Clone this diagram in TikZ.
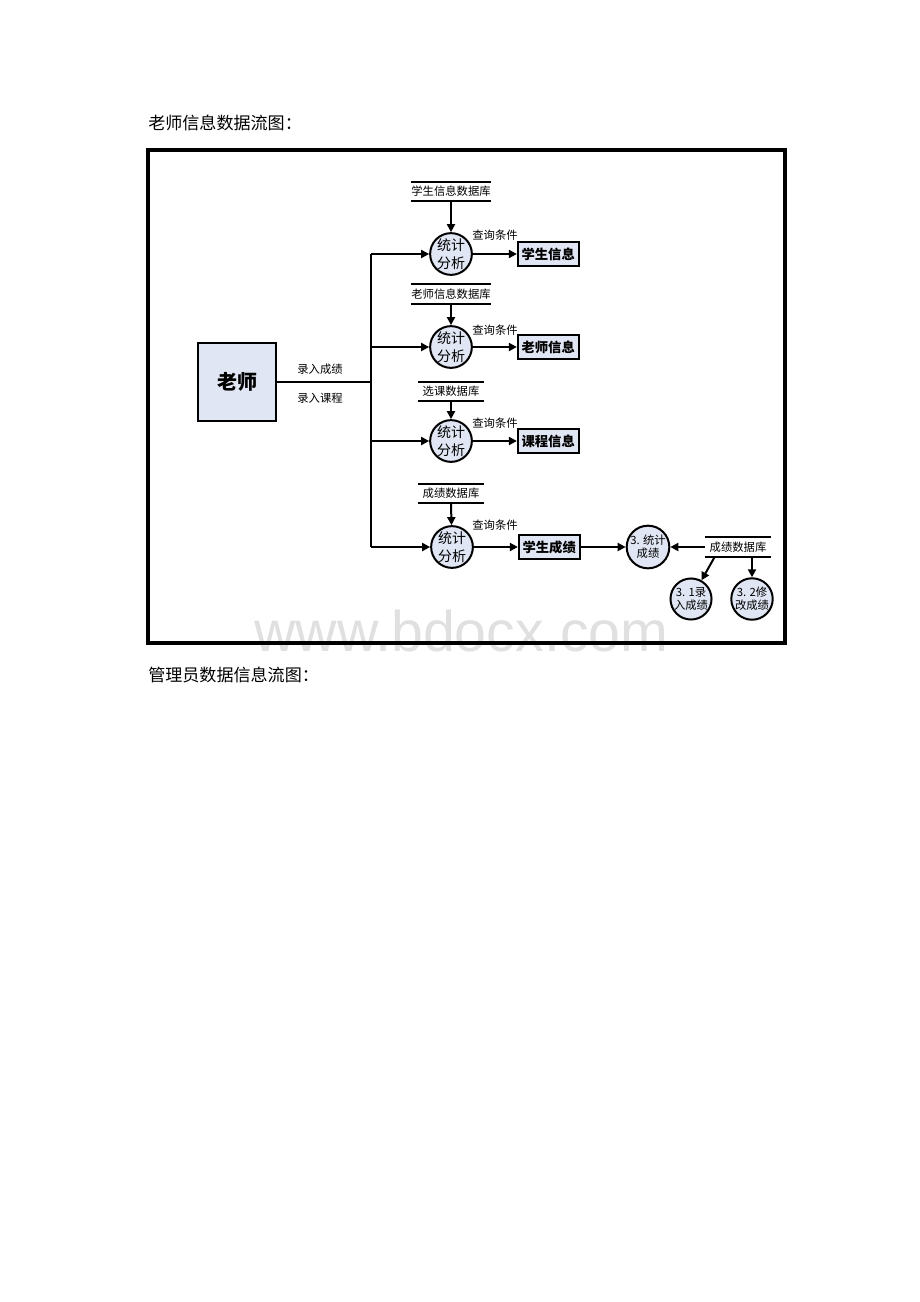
\documentclass[tikz,border=0pt]{standalone}
\usepackage{fontspec}
\setmainfont{Noto Sans CJK SC}
\newfontfamily\wmfont{Liberation Sans}
\usepackage{tikz}
\usetikzlibrary{arrows.meta, positioning}
\definecolor{boxfill}{RGB}{224,230,243}
\tikzstyle{entity} = [rectangle, draw=black, line width=1.5pt, fill=boxfill, minimum size=58.5pt, inner sep=0pt, font=\bfseries\fontsize{15}{16}\selectfont]
\tikzstyle{proc} = [circle, draw=black, line width=1.5pt, fill=boxfill, minimum size=28.5pt, inner sep=0pt, align=center, font=\fontsize{10.5}{13.5}\selectfont]
\tikzstyle{subproc} = [proc, font=\fontsize{8.5}{10}\selectfont]
\tikzstyle{outbox} = [rectangle, draw=black, line width=1.5pt, fill=boxfill, minimum width=45.5pt, minimum height=18pt, inner sep=0pt, font=\bfseries\fontsize{10}{12}\selectfont]
\tikzstyle{store} = [rectangle, minimum width=49.5pt, minimum height=14.25pt, inner sep=0pt, font=\fontsize{8.5}{9}\selectfont]
\tikzstyle{lbl} = [inner sep=0pt, font=\fontsize{8.5}{9}\selectfont]
\tikzstyle{flow} = [line width=1.5pt]
\tikzstyle{arrow} = [line width=1.5pt, -{Triangle[length=6pt,width=6pt]}]

\begin{document}
\begin{tikzpicture}[x=0.75pt, y=-0.75pt, node distance=33pt]
\useasboundingbox (0,0) rectangle (920,1302);

% titles
\node (title1) [anchor=west, inner sep=0pt, font=\fontsize{12.8}{14}\selectfont] at (148,123) {老师信息数据流图：};
\node (title2) [anchor=west, inner sep=0pt, font=\fontsize{12.8}{14}\selectfont] at (148,675) {管理员数据信息流图：};

% watermark
\node (wm) [anchor=base west, inner sep=0pt, text=black!12, font=\wmfont\fontsize{43}{43}\selectfont] at (254,651) {www.bdocx.com};

% frame
\draw [line width=3pt] (148,150) rectangle (785,643);

% source
\node (teacher) [entity] at (237,382) {老师};
\coordinate (trunk) at (371,382);

% processes
\node (p1) [proc] at (451,254) {统计\\分析};
\node (p2) [proc] at (451,347) {统计\\分析};
\node (p3) [proc] at (451,441) {统计\\分析};
\node (p4) [proc] at (452,547) {统计\\分析};

% data stores
\node (s1) [store] at (451,191.5) {学生信息数据库};
\node (s2) [store] at (451,294) {老师信息数据库};
\node (s3) [store] at (451,391.5) {选课数据库};
\node (s4) [store] at (451,493.5) {成绩数据库};
\node (s5) [store] at (738,547) {成绩数据库};

% outputs
\node (o1) [outbox, right=of p1] {学生信息};
\node (o2) [outbox, right=of p2] {老师信息};
\node (o3) [outbox, right=of p3] {课程信息};
\node (o4) [outbox, right=of p4] {学生成绩};

% grade sub-processes
\node (p5) [subproc] at (648,547) {3. 统计\\成绩};
\node (p31) [subproc] at (691,599) {3. 1录\\入成绩};
\node (p32) [subproc] at (752,599) {3. 2修\\改成绩};

% labels
\node (in1) [lbl] at (320,369) {录入成绩};
\node (in2) [lbl] at (320,398) {录入课程};
\node (q1) [lbl] at (495,235) {查询条件};
\node (q2) [lbl] at (495,330) {查询条件};
\node (q3) [lbl] at (495,423) {查询条件};
\node (q4) [lbl] at (495,525) {查询条件};

\foreach \s in {s1,s2,s3,s4,s5}
  \draw [flow] (\s.north west) -- (\s.north east) (\s.south west) -- (\s.south east);

\draw [flow] (teacher) -- (trunk);
\draw [flow] (trunk |- p1) -- (trunk |- p4);
\foreach \i in {1,...,4} {
  \draw [arrow] (trunk |- p\i) -- (p\i);
  \draw [arrow] (s\i.south) -- (p\i);
  \draw [arrow] (p\i) -- (o\i);
}
\draw [arrow] (o4) -- (p5);
\draw [arrow] (s5.west) -- (p5);
\draw [arrow] ([xshift=7.5pt]s5.south west) -- (p31);
\draw [arrow] (p32 |- s5.south) -- (p32);

\end{tikzpicture}
\end{document}
